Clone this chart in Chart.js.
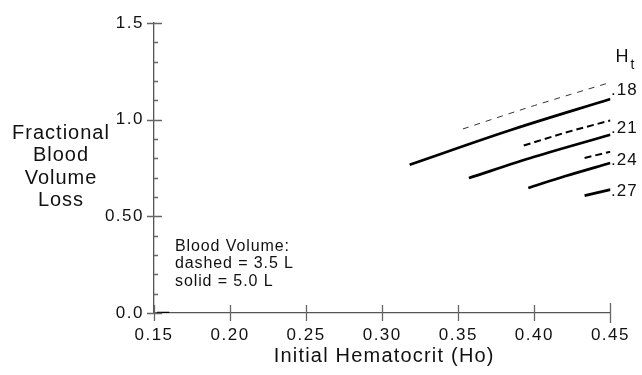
<!DOCTYPE html>
<html>
<head>
<meta charset="utf-8">
<script src="https://cdn.jsdelivr.net/npm/chart.js@4.4.0/dist/chart.umd.min.js"></script>
<style>
  html, body { margin: 0; padding: 0; background: #fff; }
  #wrap { width: 642px; height: 375px; }
</style>
</head>
<body>
<div id="wrap"><canvas id="c" width="642" height="375"></canvas></div>
<script>
// Terminal hematocrit (Ht) for each curve
const htLabels = ['.18', '.21', '.24', '.27'];

// Solid curves: blood volume 5.0 L
const solidHo = [
  [0.318, 0.385, 0.45],
  [0.357, 0.400, 0.45],
  [0.396, 0.420, 0.45],
  [0.433, 0.45]
];
const solidLoss = [
  [0.767, 0.948, 1.107],
  [0.698, 0.808, 0.922],
  [0.647, 0.707, 0.776],
  [0.607, 0.638]
];

// Dashed curves: blood volume 3.5 L
const dashedHo = [
  [0.353, 0.400, 0.45],
  [0.393, 0.420, 0.45],
  [0.433, 0.45]
];
const dashedLoss = [
  [0.952, 1.073, 1.193],
  [0.866, 0.932, 0.996],
  [0.802, 0.834]
];

// short trace lying on the baseline
const baseHo = [0.152, 0.160];
const baseLoss = [0, 0];

// axis ticks
const xTicks = [0.15, 0.20, 0.25, 0.30, 0.35, 0.40, 0.45];
const yMajor = [0.0, 0.5, 1.0, 1.5];
const yMajorText = ['0.0', '0.50', '1.0', '1.5'];

const FONT = '"Liberation Sans", Arial, Helvetica, sans-serif';

function pts(xs, ys) { return xs.map((x, i) => ({ x: x, y: ys[i] })); }

const datasets = [];
solidHo.forEach((xs, i) => datasets.push({
  data: pts(xs, solidLoss[i]), borderColor: '#000', borderWidth: 2.7,
  showLine: true, pointRadius: 0, cubicInterpolationMode: 'monotone'
}));
const dashStyles = [
  { w: 1.0, dash: [6, 6], col: '#333' },
  { w: 2.0, dash: [7, 4], col: '#000' },
  { w: 2.0, dash: [7, 4], col: '#000' }
];
dashedHo.forEach((xs, i) => datasets.push({
  data: pts(xs, dashedLoss[i]), borderColor: dashStyles[i].col, borderWidth: dashStyles[i].w,
  borderDash: dashStyles[i].dash, showLine: true, pointRadius: 0, cubicInterpolationMode: 'monotone'
}));
datasets.push({
  data: pts(baseHo, baseLoss), borderColor: '#000', borderWidth: 2.5,
  showLine: true, pointRadius: 0
});

function isMajor(v) { return yMajor.some(m => Math.abs(m - v) < 1e-6); }

const spacing = {
  id: 'spacing',
  beforeLayout(chart) { chart.ctx.letterSpacing = '1.5px'; },
  beforeDraw(chart) { chart.ctx.letterSpacing = '1.5px'; }
};

const decorations = {
  id: 'decorations',
  afterDraw(chart) {
    const ctx = chart.ctx;
    const xs = chart.scales.x, ys = chart.scales.y;
    const ca = chart.chartArea;
    ctx.save();

    // tick marks
    ctx.strokeStyle = '#666';
    ctx.lineWidth = 1.3;
    ctx.beginPath();
    ys.ticks.forEach(t => {
      const py = Math.round(ys.getPixelForValue(t.value)) + 0.5;
      if (isMajor(t.value)) {
        ctx.moveTo(ca.left - 7, py); ctx.lineTo(ca.left + 8, py);
      } else {
        ctx.moveTo(ca.left, py); ctx.lineTo(ca.left + 4, py);
      }
    });
    xTicks.forEach((v, i) => {
      const px = Math.round(xs.getPixelForValue(v)) + 0.5;
      const h = (i === xTicks.length - 1) ? 10 : 8;
      ctx.moveTo(px, ca.bottom - h); ctx.lineTo(px, ca.bottom + h);
    });
    ctx.stroke();

    ctx.fillStyle = '#111';
    ctx.textBaseline = 'alphabetic';

    // vertical axis title, set horizontally
    ctx.font = '20px ' + FONT;
    ctx.letterSpacing = '1px';
    ctx.textAlign = 'center';
    ['Fractional', 'Blood', 'Volume', 'Loss'].forEach((s, i) => {
      ctx.fillText(s, 61, 139 + i * 22.3);
    });

    // horizontal axis title
    ctx.letterSpacing = '1.2px';
    ctx.fillText('Initial Hematocrit (Ho)', (ca.left + ca.right) / 2 + 2, 362);

    // key for line styles
    ctx.font = '16px ' + FONT;
    ctx.letterSpacing = '0.9px';
    ctx.textAlign = 'left';
    ['Blood Volume:', 'dashed = 3.5 L', 'solid = 5.0 L'].forEach((s, i) => {
      ctx.fillText(s, 175, 250.6 + i * 17.7);
    });

    // H_t header
    ctx.letterSpacing = '0px';
    ctx.font = '18px ' + FONT;
    ctx.fillText('H', 615.5, 61.7);
    ctx.font = '14px ' + FONT;
    ctx.fillText('t', 630.5, 69);

    // curve labels at the right end of each solid line
    const offs = [-4.3, -1.7, 1.7, 6.6];
    ctx.font = '17px ' + FONT;
    ctx.letterSpacing = '1px';
    htLabels.forEach((s, i) => {
      const ends = solidLoss[i];
      const py = ys.getPixelForValue(ends[ends.length - 1]) + offs[i];
      ctx.fillText(s, xs.getPixelForValue(0.45) + 0.5, py);
    });

    ctx.restore();
  }
};

new Chart(document.getElementById('c'), {
  type: 'scatter',
  data: { datasets: datasets },
  options: {
    responsive: false,
    animation: false,
    devicePixelRatio: 1,
    layout: { padding: { left: 0, right: 28.5, top: 23, bottom: 0 } },
    plugins: { legend: { display: false }, tooltip: { enabled: false } },
    scales: {
      x: {
        type: 'linear', min: 0.15, max: 0.45,
        afterFit(s) { s.height = 62; },
        afterBuildTicks(s) { s.ticks = xTicks.map(v => ({ value: v })); },
        grid: { drawOnChartArea: false, drawTicks: false },
        border: { display: true, color: '#555', width: 1.3 },
        ticks: {
          autoSkip: false, maxRotation: 0, padding: 12, color: '#111',
          font: { family: FONT, size: 17 },
          callback: v => v.toFixed(2)
        }
      },
      y: {
        type: 'linear', min: 0, max: 1.5,
        afterFit(s) { s.width = 154; },
        grid: { drawOnChartArea: false, drawTicks: false },
        border: { display: true, color: '#555', width: 1.3 },
        ticks: {
          stepSize: 0.1, autoSkip: false, padding: 10, color: '#111',
          font: { family: FONT, size: 17 },
          callback: v => {
            const k = yMajor.findIndex(m => Math.abs(m - v) < 1e-6);
            return k >= 0 ? yMajorText[k] : '';
          }
        }
      }
    }
  },
  plugins: [spacing, decorations]
});
</script>
</body>
</html>
